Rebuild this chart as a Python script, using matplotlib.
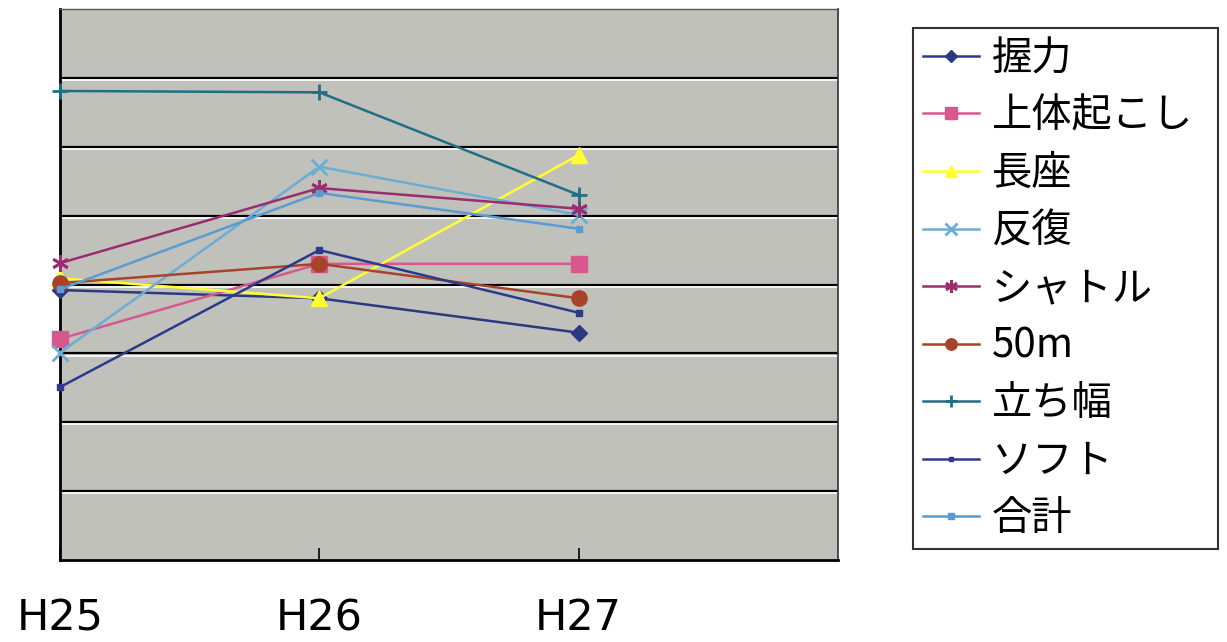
import numpy as np
import matplotlib.pyplot as plt
from matplotlib.transforms import offset_copy

plt.rcParams['font.family'] = ['Noto Sans CJK JP', 'DejaVu Sans']

years = ['H25', 'H26', 'H27']

# values, in grid units (0 = bottom, 8 = top)
grip = [3.92, 3.80, 3.30]
situp = [3.21, 4.30, 4.30]
sitreach = [4.09, 3.80, 5.88]
sidestep = [3.01, 5.71, 5.01]
shuttle = [4.31, 5.40, 5.10]
dash50 = [4.02, 4.30, 3.80]
jump = [6.81, 6.79, 5.30]
softball = [2.51, 4.50, 3.59]
total = [3.93, 5.33, 4.81]

names = ['握力', '上体起こし', '長座', '反復', 'シャトル', '50m', '立ち幅', 'ソフト', '合計']
series = [grip, situp, sitreach, sidestep, shuttle, dash50, jump, softball, total]
colors = ['#2b3a80', '#d9578f', '#ffff33', '#6aaed6', '#9b2d6f',
          '#a8432b', '#1f6f86', '#2c3a8c', '#5b9bd0']
markers = ['D', 's', '^', 'x', (6, 2, 0), 'o', '+', 's', 's']
msizes = [8, 11, 11, 12, 12, 11, 12, 4.5, 5]

fig = plt.figure(figsize=(12.27, 6.42), dpi=100)
ax = fig.add_axes([60/1227, 1 - 560/642, 778/1227, 551/642])
ax.set_facecolor('#c0c1ba')

# embossed gridlines: black with a white line just under
for g in range(1, 8):
    ax.axhline(g, color='black', lw=1.6, zorder=1)
    tr = offset_copy(ax.transData, fig=fig, x=0, y=-2.2, units='dots')
    ax.plot([0, 3], [g, g], color='white', lw=1.2, transform=tr, zorder=1)

x = np.arange(len(years))
for name, vals, c, m, ms in zip(names, series, colors, markers, msizes):
    ax.plot(x, vals, color=c, lw=1.8, marker=m, markersize=ms,
            markeredgecolor=c, markeredgewidth=2 if m in ('x', '+', (6, 2, 0)) else 1,
            label=name, clip_on=False, zorder=3)

ax.set_xlim(0, 3)
ax.set_ylim(0, 8)
ax.set_yticks([])
ax.set_xticks(x)
ax.set_xticklabels(years, family=['DejaVu Sans'], fontsize=31)
ax.tick_params(axis='x', direction='in', length=9, width=1.2, pad=27)

ax.spines['left'].set_linewidth(2)
ax.spines['bottom'].set_linewidth(2)
ax.spines['top'].set_color('#555555')
ax.spines['right'].set_color('#333333')
ax.spines['top'].set_linewidth(1)
ax.spines['right'].set_linewidth(1.2)

leg = fig.legend(loc='upper left',
                 bbox_to_anchor=(913/1227, 1 - 28/642, 305/1227, 0.0),
                 mode='expand',
                 bbox_transform=fig.transFigure, borderaxespad=0,
                 fontsize=29, frameon=True, fancybox=False, edgecolor='black',
                 handlelength=1.4, handletextpad=0.3, labelspacing=0.41,
                 borderpad=0.25, markerscale=0.75)
leg.get_frame().set_linewidth(1.5)

fig.savefig('out.png', dpi=100, facecolor='white')
